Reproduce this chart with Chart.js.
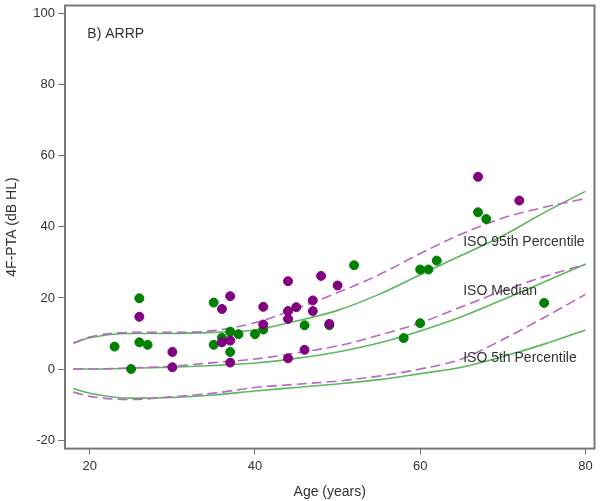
<!DOCTYPE html>
<html>
<head>
<meta charset="utf-8">
<script src="https://cdn.jsdelivr.net/npm/chart.js@4"></script>
<style>
  body { margin: 0; background: #fff; }
  #wrap { width: 600px; height: 501px; }
</style>
</head>
<body>
<div id="wrap"><canvas id="arrpChart"></canvas></div>
<script>
// ISO reference curves (solid green) and study curves (dashed purple)
const ages = [18, 20, 25, 30, 35, 40, 45, 50, 55, 60, 65, 70, 75, 80];
const iso95 = [7.3, 8.8, 10, 10, 10.3, 11, 13.5, 16.5, 21, 26.5, 32, 37.5, 44, 50];
const isoMedian = [0, 0, 0.2, 0.5, 1, 1.7, 3, 4.8, 7.3, 10.7, 14.7, 19.5, 24.5, 29.5];
const iso5 = [-5.5, -6.8, -8.2, -8, -7.3, -6.2, -5.2, -4.2, -3, -1.3, 0.5, 3.5, 7, 11];
const fit95 = [7.3, 9, 10.3, 10.3, 10.8, 13, 17, 21.5, 26.5, 32.5, 38, 42.5, 45.5, 48];
const fitMedian = [0, 0, 0.3, 0.8, 1.8, 2.8, 4.5, 6.5, 9.5, 13, 17.5, 22, 26, 29.5];
const fit5 = [-6.5, -7.7, -8.6, -7.8, -6.8, -5.2, -4.3, -3.4, -2, 0, 2.8, 8.3, 14.5, 21];

// individual ears / subjects
const greenAge = [23, 25, 26, 26, 27, 35, 35, 36, 37, 37, 38, 40, 41, 46, 49, 52, 60, 61, 62, 58, 60, 75, 67, 68];
const greenPta = [6.3, 0, 19.9, 7.5, 6.8, 18.7, 6.8, 8.8, 10.5, 4.8, 9.8, 9.8, 11.1, 12.3, 12.3, 29.2, 28, 28, 30.5, 8.7, 12.9, 18.6, 44.1, 42.2];
const purpleAge = [26, 30, 30, 36, 36, 37, 37, 37, 41, 41, 44, 44, 44, 44, 45, 46, 47, 47, 48, 49, 50, 67, 72];
const purplePta = [14.7, 4.8, 0.5, 16.9, 7.5, 20.5, 8, 1.8, 17.5, 12.5, 24.7, 16.3, 14.1, 3, 17.4, 5.4, 19.3, 16.3, 26.2, 12.7, 23.5, 54.1, 47.4];

const xTicks = [20, 40, 60, 80];
const yTicks = [-20, 0, 20, 40, 60, 80, 100];

const curveLabels = [
  { text: 'ISO 95th Percentile', x: 65.2, y: 35.6 },
  { text: 'ISO Median', x: 65.2, y: 21.9 },
  { text: 'ISO 5th Percentile', x: 65.2, y: 3.0 }
];
const panelLabel = { text: 'B) ARRP', x: 19.7, y: 94.1 };

const toPoints = (xs, ys) => xs.map((x, i) => ({ x: x, y: ys[i] }));

const GREEN_LINE = '#5cb85c';
const PURPLE_LINE = '#b866c8';
const GREEN_DOT = '#008000';
const PURPLE_DOT = '#800080';

function curve(ys, color, dashed, order) {
  return {
    data: toPoints(ages, ys),
    showLine: true,
    borderColor: color,
    borderWidth: 1.6,
    borderDash: dashed ? [10, 5] : [],
    pointRadius: 0,
    cubicInterpolationMode: 'monotone',
    order: order
  };
}

// box around the plot and text annotations
const framePlugin = {
  id: 'frame',
  afterDraw(chart) {
    const ctx = chart.ctx;
    const a = chart.chartArea;
    const xs = chart.scales.x, ys = chart.scales.y;
    ctx.save();
    ctx.strokeStyle = '#777';
    ctx.lineWidth = 2;
    ctx.strokeRect(a.left, a.top, a.right - a.left, a.bottom - a.top);
    ctx.fillStyle = '#333';
    ctx.font = '14px "Liberation Sans", Arial, sans-serif';
    ctx.textBaseline = 'middle';
    ctx.textAlign = 'left';
    curveLabels.forEach(l => {
      ctx.fillText(l.text, xs.getPixelForValue(l.x), ys.getPixelForValue(l.y));
    });
    ctx.fillText(panelLabel.text, xs.getPixelForValue(panelLabel.x), ys.getPixelForValue(panelLabel.y));
    ctx.restore();
  }
};

const ctx = document.getElementById('arrpChart').getContext('2d');

const arrpChart = new Chart(ctx, {
  type: 'scatter',
  data: {
    datasets: [
      {
        data: toPoints(purpleAge, purplePta),
        backgroundColor: PURPLE_DOT,
        borderColor: PURPLE_DOT,
        pointRadius: 4.5,
        order: 0
      },
      {
        data: toPoints(greenAge, greenPta),
        backgroundColor: GREEN_DOT,
        borderColor: GREEN_DOT,
        pointRadius: 4.5,
        order: 1
      },
      curve(fit95, PURPLE_LINE, true, 2),
      curve(fitMedian, PURPLE_LINE, true, 2),
      curve(fit5, PURPLE_LINE, true, 2),
      curve(iso95, GREEN_LINE, false, 3),
      curve(isoMedian, GREEN_LINE, false, 3),
      curve(iso5, GREEN_LINE, false, 3)
    ]
  },
  options: {
    responsive: true,
    maintainAspectRatio: false,
    animation: false,
    layout: { padding: { top: 5, right: 1, left: 0, bottom: 0 } },
    plugins: {
      legend: { display: false },
      tooltip: { enabled: false }
    },
    scales: {
      x: {
        type: 'linear',
        min: 17,
        max: 81.1,
        afterBuildTicks: s => { s.ticks = xTicks.map(v => ({ value: v })); },
        afterFit: s => { s.paddingLeft = 0; s.paddingRight = 0; },
        grid: { drawOnChartArea: false, tickLength: 6, color: '#777' },
        border: { display: false },
        ticks: {
          color: '#333',
          padding: 4,
          maxRotation: 0,
          font: { family: '"Liberation Sans", Arial, sans-serif', size: 13 }
        },
        title: {
          display: true,
          text: 'Age (years)',
          color: '#333',
          padding: { top: 6, bottom: 0 },
          font: { family: '"Liberation Sans", Arial, sans-serif', size: 14 }
        }
      },
      y: {
        type: 'linear',
        min: -22.4,
        max: 102.3,
        afterBuildTicks: s => { s.ticks = yTicks.map(v => ({ value: v })); },
        afterFit: s => { s.width = 65; s.paddingTop = 0; s.paddingBottom = 0; },
        grid: { drawOnChartArea: false, tickLength: 7, color: '#777' },
        border: { display: false },
        ticks: {
          color: '#333',
          padding: 3,
          font: { family: '"Liberation Sans", Arial, sans-serif', size: 13 }
        },
        title: {
          display: true,
          text: '4F-PTA (dB HL)',
          color: '#333',
          padding: { top: 4, bottom: 0 },
          font: { family: '"Liberation Sans", Arial, sans-serif', size: 14 }
        }
      }
    }
  },
  plugins: [framePlugin]
});
</script>
</body>
</html>
